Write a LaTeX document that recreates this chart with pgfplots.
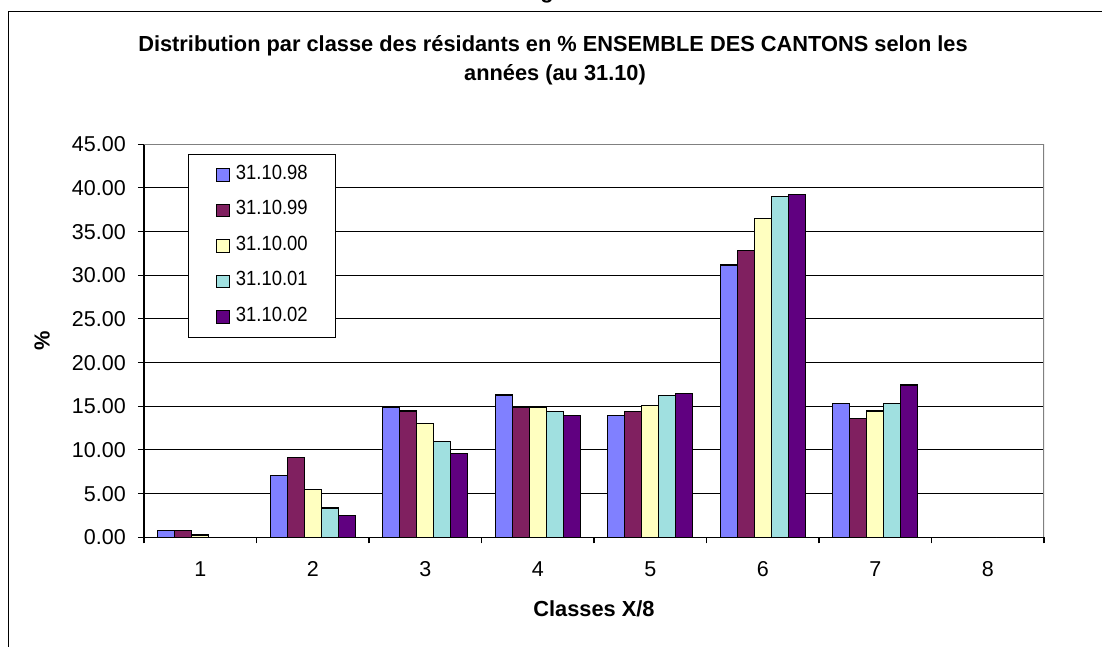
\documentclass[border=0pt]{standalone}
\usepackage{pgfplots}
\pgfplotsset{compat=1.18}
\usepackage{fontspec}
\setmainfont{Liberation Sans}
\newfontfamily\legfont{Liberation Sans}[FakeStretch=0.9]
\definecolor{cA}{RGB}{128,128,255}
\definecolor{cB}{RGB}{128,32,96}
\definecolor{cC}{RGB}{255,255,192}
\definecolor{cD}{RGB}{160,224,224}
\definecolor{cE}{RGB}{96,0,128}
\newcommand\tfs{\fontsize{21.5}{25}\selectfont}
\newcommand\lfs{\legfont\fontsize{20.5}{24}\selectfont}
\newcommand\bfs{\fontsize{21.8}{26}\selectfont\bfseries}
\pgfplotsset{legimg/.style={legend image code/.code={\draw[##1,draw=black,line width=1.2pt] (0pt,-6.3pt) rectangle (12.6pt,6.3pt);}}}
\begin{document}
\begin{tikzpicture}[x=1pt,y=1pt]
\useasboundingbox (0,0) rectangle (1102,646);
\draw[line width=1.5pt] (8.3,-10) -- (8.3,634.3) -- (1120,634.3);
\node[anchor=base,font=\bfs,inner sep=0pt] at (553,594.3) {Distribution par classe des résidants en \% ENSEMBLE DES CANTONS selon les};
\node[anchor=base,font=\bfs,inner sep=0pt] at (555,565) {années (au 31.10)};
\node[anchor=base,font=\bfs,inner sep=0pt] at (547,647.5) {g};
\begin{axis}[
  at={(128,124.5)}, anchor=south west, scale only axis,
  width=900pt, height=393pt,
  xmin=0.5, xmax=8.5, ymin=0, ymax=45,
  axis lines*=left,
  axis line style={line width=1.3pt, black},
  ybar=0pt, bar width=17pt,
  tick align=outside, major tick length=6pt,
  tick style={black, line width=1.1pt},
  xtick={0.5,1.5,...,8.5}, xticklabels={},
  extra x ticks={1,2,3,4,5,6,7,8},
  extra x tick labels={1,2,3,4,5,6,7,8},
  extra x tick style={grid=none, major tick length=0pt, tick style={draw=none},
    xticklabel style={yshift=-21pt}},
  ytick={0,5,...,45},
  yticklabel style={xshift=-8.7pt, /pgf/number format/.cd, fixed, fixed zerofill, precision=2},
  /pgf/number format/assume math mode=true,
  tick label style={font=\tfs},
  ymajorgrids, grid style={black, line width=1.1pt},
  xlabel={\bfseries Classes X/8},
  xlabel style={font=\bfs, at={(axis description cs:0.5,0)}, anchor=base, yshift=-79.7pt},
  ylabel={\bfseries\%},
  ylabel style={font=\bfs, at={(axis description cs:-0.1133,0.5)}, anchor=center},
  legend style={at={(0.049,0.9746)}, anchor=north west, draw=black, line width=1pt, fill=white,
    inner xsep=27.5pt, inner ysep=10pt, row sep=15pt, column sep=6pt, font=\lfs,
    nodes={inner sep=0pt, text height=14.5pt, text depth=6pt}},
  legend cell align=left,
]
\addplot[fill=cA, draw=black, line width=1.4pt, legimg] coordinates {(1,0.75) (2,7.09) (3,14.87) (4,16.28) (5,13.91) (6,31.19) (7,15.33) (8,0)};
\addplot[fill=cB, draw=black, line width=1.4pt, legimg] coordinates {(1,0.75) (2,9.16) (3,14.44) (4,14.83) (5,14.37) (6,32.84) (7,13.57) (8,0)};
\addplot[fill=cC, draw=black, line width=1.4pt, legimg] coordinates {(1,0.25) (2,5.44) (3,13.03) (4,14.83) (5,15.06) (6,36.47) (7,14.45) (8,0)};
\addplot[fill=cD, draw=black, line width=1.4pt, legimg] coordinates {(1,0) (2,3.37) (3,10.96) (4,14.37) (5,16.20) (6,38.99) (7,15.33) (8,0)};
\addplot[fill=cE, draw=black, line width=1.4pt, legimg] coordinates {(1,0) (2,2.49) (3,9.62) (4,13.95) (5,16.48) (6,39.26) (7,17.43) (8,0)};
\legend{31.10.98,31.10.99,31.10.00,31.10.01,31.10.02}
\draw[gray, line width=1.3pt] (rel axis cs:0,1) -- (rel axis cs:1,1) -- (rel axis cs:1,0);
\end{axis}
\end{tikzpicture}
\end{document}
